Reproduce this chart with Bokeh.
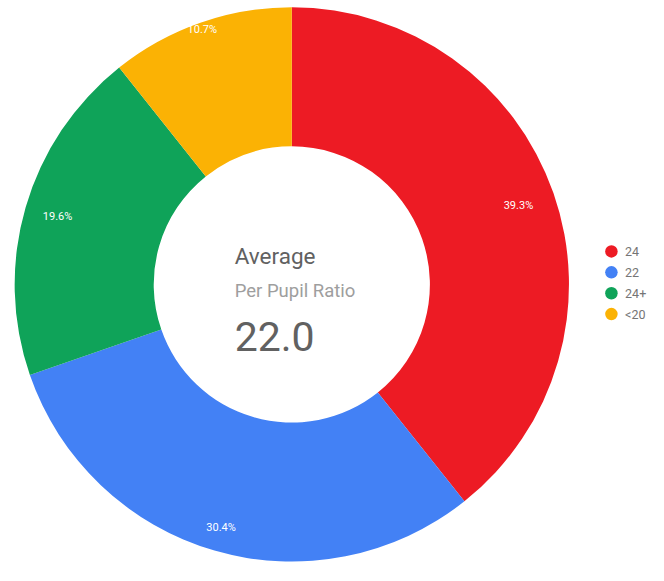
import math
from bokeh.plotting import figure
from bokeh.models import Range1d, ColumnDataSource
from bokeh.core.properties import value
from bokeh.embed import file_html
from bokeh.resources import INLINE

# ---- data ----
categories = ["24", "22", "24+", "<20"]
shares = [39.3, 30.4, 19.6, 10.7]
colors = ["#ED1B24", "#4381F5", "#0FA359", "#FBB204"]
center_title = "Average"
center_subtitle = "Per Pupil Ratio"
center_value = "22.0"

# ---- layout (reference pixel space, y up) ----
W, H = 648, 565
CX, CY = 298.5, 289.0
R_OUT, R_IN = 284.0, 141.5
label_r = [246, 260, 250, 278]

total = sum(shares)
starts, ends, lx, ly, ltxt = [], [], [], [], []
cum = 0.0
for i, s in enumerate(shares):
    a0 = math.pi / 2 - 2 * math.pi * cum / total
    cum += s
    a1 = math.pi / 2 - 2 * math.pi * cum / total
    starts.append(a0)
    ends.append(a1)
    mid = (a0 + a1) / 2
    lx.append(CX + label_r[i] * math.cos(mid))
    ly.append(CY + label_r[i] * math.sin(mid))
    ltxt.append(f"{s:.1f}%")

src = ColumnDataSource(dict(start=starts, end=ends, color=colors, cat=categories))

p = figure(width=W, height=H, output_backend="svg", toolbar_location=None,
           x_range=Range1d(0, 664), y_range=Range1d(0, 581),
           x_axis_location=None, y_axis_location=None,
           min_border=0, tools="")
p.outline_line_color = None
p.grid.visible = False
p.background_fill_color = "white"
p.border_fill_color = "white"

p.annular_wedge(x=CX, y=CY, inner_radius=R_IN, outer_radius=R_OUT,
                start_angle="start", end_angle="end", direction="clock",
                fill_color="color", line_color=None, source=src)

p.text(x=lx, y=ly, text=ltxt, text_color="white", text_font=value("Roboto"),
       text_font_size="11px", text_align="center", text_baseline="middle")

# center text
TX = 240
p.text(x=[TX], y=[318], text=[center_title], text_color="#616161",
       text_font=value("Roboto"), text_font_size="22.5px", text_baseline="alphabetic")
p.text(x=[TX], y=[282], text=[center_subtitle], text_color="#9E9E9E",
       text_font=value("Roboto"), text_font_size="18.5px", text_baseline="alphabetic")
p.text(x=[TX], y=[235], text=[center_value], text_color="#616161",
       text_font=value("Roboto"), text_font_size="41px", text_baseline="alphabetic")

# legend
LGX, LGY, LGS = 626, 581 - 258, 21.5
leg_y = [LGY - i * LGS for i in range(len(categories))]
p.scatter(x=[LGX] * len(categories), y=leg_y, size=12.5, marker="circle",
          fill_color=colors, line_color=None)
p.text(x=[LGX + 14] * len(categories), y=leg_y, text=categories,
       text_color="#757575", text_font=value("Roboto"), text_font_size="12.5px",
       text_baseline="middle", text_align="left")

open("out.html", "w").write(file_html(p, INLINE))
